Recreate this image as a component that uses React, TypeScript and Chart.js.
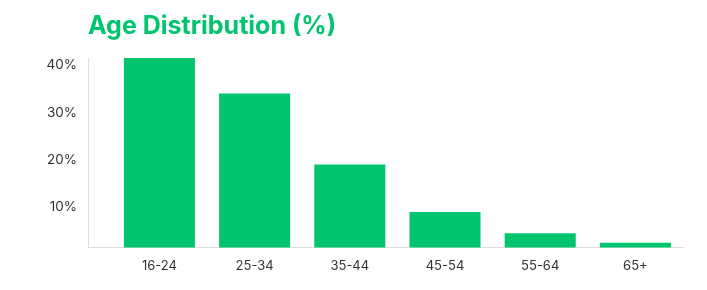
import React, { useEffect, useRef } from "react";
import { Chart, registerables } from "chart.js";

Chart.register(...registerables);

const categories = ["16-24", "25-34", "35-44", "45-54", "55-64", "65+"];
const shares = [41.5, 34, 19, 9, 4.5, 2.5];
const yTickValues = [10, 20, 30, 40];
const yRange = { min: 1.5, max: 41.5 };
const titleText = "Age Distribution (%)";

const GREEN = "#00C46E";
const FONT = "Inter";

export default function App() {
  const ref = useRef<HTMLCanvasElement | null>(null);

  useEffect(() => {
    if (!ref.current) return;
    const chart = new Chart(ref.current, {
      type: "bar",
      data: {
        datasets: [
          {
            data: shares.map((v, i) => ({ x: i, y: v })),
            backgroundColor: GREEN,
            borderWidth: 0,
            categoryPercentage: 1,
            barPercentage: 0.746,
          },
        ],
      },
      options: {
        responsive: false,
        animation: false,
        devicePixelRatio: 1,
        layout: { padding: { left: 0, right: 24, top: 0, bottom: 5 } },
        plugins: {
          legend: { display: false },
          tooltip: { enabled: false },
          title: {
            display: true,
            text: titleText,
            align: "start",
            fullSize: false,
            color: GREEN,
            font: { family: FONT, size: 25, weight: "bold" },
            padding: { top: 11, bottom: 17 },
          },
        },
        scales: {
          x: {
            type: "linear",
            min: -0.75,
            max: 5.5,
            offset: false,
            grid: { display: false, drawTicks: false },
            border: { display: true, color: "#dddddd", width: 1 },
            afterBuildTicks: (axis: any) => {
              axis.ticks = categories.map((_, i) => ({ value: i }));
            },
            ticks: {
              autoSkip: false,
              maxRotation: 0,
              padding: 11,
              color: "#333333",
              font: { family: FONT, size: 13 },
              callback: (v: any) => categories[v as number] ?? "",
            },
          },
          y: {
            min: yRange.min,
            max: yRange.max,
            grid: { display: false, drawTicks: false },
            border: { display: true, color: "#dddddd", width: 1 },
            afterBuildTicks: (axis: any) => {
              axis.ticks = yTickValues.map((v) => ({ value: v }));
            },
            afterFit: (axis: any) => {
              axis.width = 88;
            },
            ticks: {
              padding: 11,
              color: "#333333",
              font: { family: FONT, size: 13.5 },
              callback: (v: any) => `${v}%`,
            },
          },
        },
      },
    });
    return () => chart.destroy();
  }, []);

  return (
    <div style={{ position: "fixed", left: 0, top: 0, width: 707, height: 290, background: "#fff" }}>
      <canvas ref={ref} width={707} height={290} />
    </div>
  );
}
